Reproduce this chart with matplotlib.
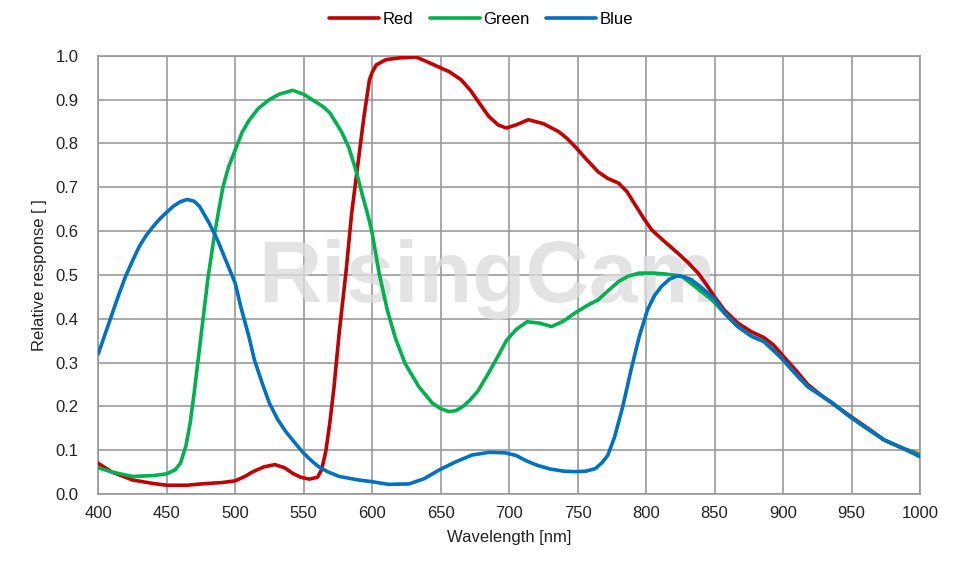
import matplotlib
matplotlib.use("Agg")
import matplotlib.pyplot as plt

plt.rcParams['font.family'] = ['Liberation Sans', 'DejaVu Sans']

# wavelength (nm) and relative response
red_nm = [400, 410, 425, 440, 450, 465, 475, 490, 500, 507, 513, 521, 529, 536,
          542, 548, 554, 560, 563, 566, 569, 572, 576, 581, 585, 590, 594, 598,
          600, 603, 610, 620, 632, 641, 648, 656, 665, 672, 678, 685, 692, 698,
          705, 714, 725, 736, 742, 748, 756, 765, 772, 780, 786, 792, 798, 804,
          812, 823, 830, 838, 844, 850, 857, 867, 877, 886, 893, 900, 910, 918,
          930, 949, 962, 974, 987, 1000]
red_val = [0.070, 0.050, 0.032, 0.024, 0.020, 0.020, 0.023, 0.026, 0.030, 0.040,
           0.051, 0.062, 0.067, 0.060, 0.047, 0.038, 0.034, 0.038, 0.055, 0.095,
           0.16, 0.24, 0.37, 0.51, 0.64, 0.763, 0.861, 0.945, 0.962, 0.979,
           0.991, 0.995, 0.997, 0.985, 0.975, 0.964, 0.945, 0.92, 0.893, 0.862,
           0.842, 0.835, 0.842, 0.854, 0.845, 0.827, 0.812, 0.793, 0.765, 0.735,
           0.72, 0.709, 0.69, 0.66, 0.63, 0.603, 0.58, 0.55, 0.53, 0.504, 0.478,
           0.45, 0.42, 0.39, 0.37, 0.357, 0.34, 0.315, 0.28, 0.25, 0.22, 0.178,
           0.15, 0.123, 0.105, 0.09]

green_nm = [400, 410, 425, 440, 450, 456, 460, 464, 467, 470, 475, 480, 485, 491,
            495, 500, 505, 510, 517, 525, 532, 542, 550, 557, 564, 569, 574, 578,
            583, 588, 593, 597, 600, 605, 611, 617, 624, 634, 644, 650, 656, 661,
            666, 671, 677, 685, 692, 698, 705, 713, 722, 731, 740, 748, 757, 765,
            772, 780, 787, 795, 805, 814, 826, 835, 848, 858, 867, 877, 886, 898,
            908, 918, 935, 949, 962, 974, 987, 1000]
green_val = [0.060, 0.050, 0.040, 0.042, 0.046, 0.055, 0.07, 0.11, 0.16, 0.23,
             0.36, 0.49, 0.595, 0.70, 0.745, 0.785, 0.825, 0.852, 0.88, 0.90,
             0.912, 0.921, 0.912, 0.898, 0.884, 0.87, 0.845, 0.824, 0.79, 0.74,
             0.68, 0.635, 0.595, 0.505, 0.42, 0.355, 0.298, 0.245, 0.207, 0.195,
             0.188, 0.19, 0.199, 0.213, 0.234, 0.276, 0.315, 0.350, 0.375, 0.393,
             0.39, 0.382, 0.395, 0.413, 0.43, 0.443, 0.463, 0.485, 0.497, 0.504,
             0.504, 0.502, 0.497, 0.475, 0.443, 0.41, 0.382, 0.36, 0.348, 0.313,
             0.278, 0.245, 0.21, 0.176, 0.148, 0.123, 0.105, 0.089]

blue_nm = [400, 405, 410, 415, 420, 425, 430, 435, 440, 445, 450, 455, 460, 465,
           470, 474, 481, 487, 493, 500, 504, 510, 514, 520, 525, 531, 537, 544,
           550, 556, 561, 568, 576, 590, 600, 612, 627, 638, 649, 660, 673, 685,
           697, 705, 713, 721, 730, 740, 748, 756, 763, 768, 772, 777, 783, 789,
           795, 801, 806, 811, 817, 823, 828, 833, 840, 850, 858, 867, 877, 886,
           898, 908, 918, 935, 949, 962, 974, 987, 1000]
blue_val = [0.32, 0.365, 0.41, 0.455, 0.497, 0.532, 0.565, 0.59, 0.61, 0.628,
            0.643, 0.657, 0.667, 0.672, 0.668, 0.656, 0.618, 0.58, 0.534, 0.481,
            0.428, 0.359, 0.306, 0.25, 0.207, 0.17, 0.142, 0.115, 0.093, 0.075,
            0.062, 0.05, 0.04, 0.032, 0.028, 0.022, 0.023, 0.035, 0.055, 0.072,
            0.089, 0.095, 0.094, 0.088, 0.075, 0.065, 0.057, 0.052, 0.051, 0.052,
            0.058, 0.072, 0.088, 0.13, 0.2, 0.283, 0.359, 0.42, 0.452, 0.473,
            0.49, 0.498, 0.495, 0.489, 0.472, 0.445, 0.41, 0.382, 0.36, 0.348,
            0.313, 0.278, 0.245, 0.21, 0.176, 0.148, 0.123, 0.105, 0.085]

x_ticks = list(range(400, 1001, 50))
y_ticks = [i / 10 for i in range(11)]

fig = plt.figure(figsize=(9.72, 5.62), dpi=100)
ax = fig.add_axes([0.1011, 0.121, 0.8454, 0.7799])

# watermark
ax.text(684, 0.439, "RisingCam", fontsize=63, fontweight="bold",
        color="#dcdcdc", alpha=0.8, ha="center", va="baseline", zorder=2)

line_kw = dict(linewidth=2.6, solid_joinstyle="round", solid_capstyle="round")
ax.plot(red_nm, red_val, color="#c00000", label="Red", zorder=3, **line_kw)
ax.plot(green_nm, green_val, color="#00b050", label="Green", zorder=4, **line_kw)
ax.plot(blue_nm, blue_val, color="#0070c0", label="Blue", zorder=5, **line_kw)

ax.set_xlim(400, 1000)
ax.set_ylim(0, 1.0)
ax.set_xticks(x_ticks)
ax.set_yticks(y_ticks)
ax.set_yticklabels([f"{v:.1f}" for v in y_ticks])
ax.tick_params(axis="both", length=0, labelsize=12, colors="#222222")
ax.tick_params(axis="y", pad=14)
ax.tick_params(axis="x", pad=9)

ax.grid(True, color="#999999", linewidth=1.2)
ax.set_axisbelow(True)
for s in ax.spines.values():
    s.set_color("#999999")
    s.set_linewidth(1.2)

ax.set_xlabel("Wavelength [nm]", fontsize=12, color="#222222", labelpad=6)
ax.set_ylabel("Relative response [ ]", fontsize=12, color="#222222", labelpad=6)

fig.legend(loc="upper center", bbox_to_anchor=(0.495, 1.005), ncol=3,
           frameon=False, fontsize=12, handlelength=3.0, handletextpad=0.2,
           columnspacing=1.0)

plt.savefig("out.png", dpi=100)
